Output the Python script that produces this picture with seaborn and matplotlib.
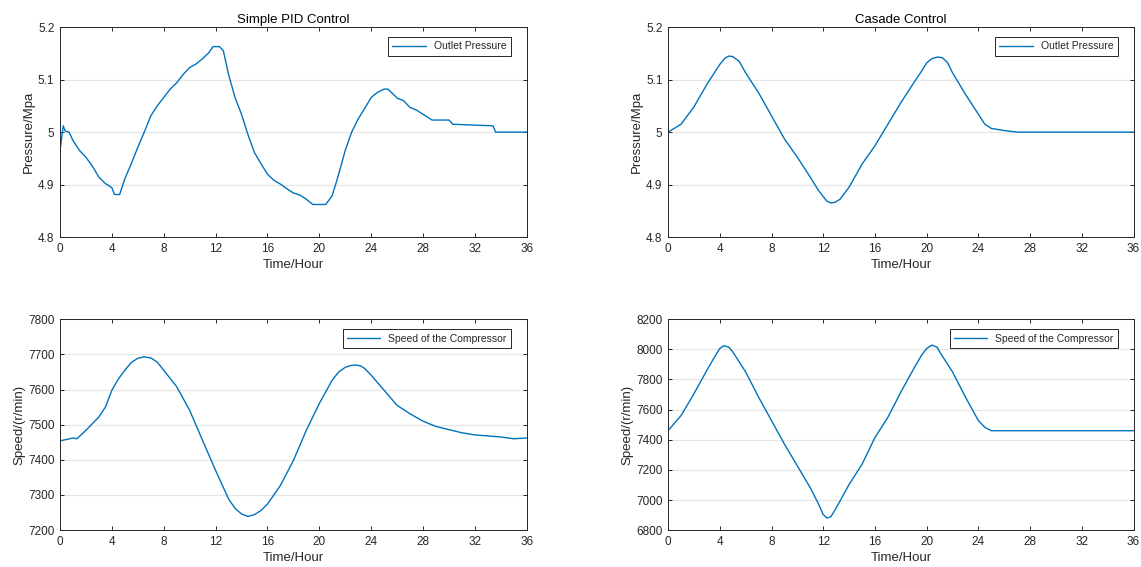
import matplotlib
matplotlib.use("Agg")
import matplotlib.pyplot as plt
import seaborn as sns
import pandas as pd
from matplotlib.ticker import FuncFormatter

# Simple PID control - outlet pressure
pid_p_time = [0, 0.25, 0.4, 0.7, 1.0, 1.5, 2.0, 2.5, 3.0, 3.5, 4.0, 4.2, 4.6, 5.0, 5.5,
              6.0, 6.5, 7.0, 7.5, 8.0, 8.5, 9.0, 9.5, 10.0, 10.5, 11.0, 11.5, 11.8, 12.3,
              12.6, 13.0, 13.5, 14.0, 14.5, 15.0, 15.5, 16.0, 16.5, 17.0, 17.5, 18.0,
              18.5, 19.0, 19.5, 20.5, 21.0, 21.5, 22.0, 22.5, 23.0, 23.5, 24.0, 24.5,
              25.0, 25.3, 26.0, 26.5, 27.0, 27.5, 28.0, 28.7, 30.0, 30.3, 33.4, 33.6, 36.0]
pid_p_val = [4.965, 5.012, 5.002, 5.0, 4.984, 4.965, 4.952, 4.935, 4.914, 4.902, 4.894, 4.881,
             4.881, 4.911, 4.94, 4.971, 5.0, 5.031, 5.05, 5.066, 5.082, 5.094, 5.11, 5.123,
             5.13, 5.14, 5.152, 5.163, 5.163, 5.155, 5.11, 5.066, 5.034, 4.995, 4.961, 4.94,
             4.92, 4.908, 4.901, 4.892, 4.884, 4.88, 4.872, 4.862, 4.862, 4.879, 4.92,
             4.965, 5.0, 5.025, 5.045, 5.066, 5.076, 5.082, 5.082, 5.065, 5.06, 5.047,
             5.042, 5.034, 5.023, 5.023, 5.015, 5.012, 5.0, 5.0]

# Simple PID control - compressor speed
pid_s_time = [0, 1.0, 1.3, 2.0, 3.0, 3.5, 4.0, 4.5, 5.0, 5.5, 6.0, 6.5, 7.0, 7.5, 8.0, 9.0,
              10.0, 11.0, 12.0, 13.0, 13.5, 14.0, 14.5, 15.0, 15.5, 16.0, 17.0, 18.0, 19.0,
              20.0, 21.0, 21.5, 22.0, 22.4, 22.8, 23.2, 23.5, 24.0, 25.0, 26.0, 27.0, 28.0,
              29.0, 30.0, 31.0, 32.0, 33.0, 34.0, 35.0, 36.0]
pid_s_val = [7454, 7462, 7460, 7484, 7522, 7550, 7598, 7630, 7655, 7677, 7689, 7693, 7690,
             7678, 7655, 7608, 7541, 7455, 7370, 7289, 7262, 7246, 7239, 7244, 7256, 7274,
             7327, 7398, 7484, 7560, 7627, 7650, 7663, 7668, 7670, 7667, 7660, 7641, 7598,
             7555, 7531, 7510, 7495, 7486, 7477, 7471, 7468, 7465, 7460, 7462]

# Cascade control - outlet pressure
cas_p_time = [0, 1, 2, 3, 3.5, 4, 4.4, 4.7, 5.0, 5.5, 6, 7, 8, 9, 10, 11, 11.6, 12, 12.3,
              12.6, 12.9, 13.3, 14, 15, 16, 17, 18, 19, 19.6, 20, 20.4, 20.8, 21.2, 21.6,
              22, 23, 24, 24.5, 25, 26, 27, 36]
cas_p_val = [5.0, 5.015, 5.048, 5.091, 5.11, 5.129, 5.141, 5.145, 5.144, 5.135, 5.113,
             5.075, 5.031, 4.987, 4.952, 4.914, 4.89, 4.877, 4.868, 4.865, 4.866, 4.872,
             4.895, 4.939, 4.974, 5.015, 5.056, 5.094, 5.116, 5.132, 5.14, 5.143, 5.142,
             5.133, 5.113, 5.072, 5.034, 5.015, 5.007, 5.003, 5.0, 5.0]

# Cascade control - compressor speed
cas_s_time = [0, 1, 2, 3, 3.5, 4, 4.3, 4.7, 5, 6, 7, 8, 9, 10, 11, 11.6, 12, 12.3, 12.6,
              13, 14, 15, 16, 17, 18, 19, 19.6, 20, 20.4, 20.8, 21, 22, 23, 24, 24.5, 25, 36]
cas_s_val = [7460, 7560, 7705, 7861, 7935, 8006, 8024, 8015, 7984, 7850, 7683, 7527, 7371,
             7226, 7081, 6980, 6903, 6880, 6890, 6947, 7103, 7237, 7415, 7549, 7716, 7872,
             7960, 8006, 8028, 8015, 7984, 7850, 7683, 7527, 7482, 7460, 7460]

time_ticks = list(range(0, 37, 4))
pressure_ticks = [4.8, 4.9, 5.0, 5.1, 5.2]
pid_speed_ticks = [7200, 7300, 7400, 7500, 7600, 7700, 7800]
cas_speed_ticks = [6800, 7000, 7200, 7400, 7600, 7800, 8000, 8200]

sns.set_theme(style="ticks")
plt.rcParams["font.family"] = ["Liberation Sans", "DejaVu Sans"]

line_color = "#0072BD"
edge = "#262626"

fig = plt.figure(figsize=(11.41, 5.67), dpi=100)
ax_tl = fig.add_axes([0.0526, 0.582, 0.409, 0.370])
ax_tr = fig.add_axes([0.5855, 0.582, 0.408, 0.370])
ax_bl = fig.add_axes([0.0526, 0.065, 0.409, 0.372])
ax_br = fig.add_axes([0.5855, 0.065, 0.408, 0.372])

panels = [
    (ax_tl, pid_p_time, pid_p_val, "Outlet Pressure", "Pressure/Mpa", pressure_ticks, "Simple PID Control"),
    (ax_tr, cas_p_time, cas_p_val, "Outlet Pressure", "Pressure/Mpa", pressure_ticks, "Casade Control"),
    (ax_bl, pid_s_time, pid_s_val, "Speed of the Compressor", "Speed/(r/min)", pid_speed_ticks, None),
    (ax_br, cas_s_time, cas_s_val, "Speed of the Compressor", "Speed/(r/min)", cas_speed_ticks, None),
]

for ax, t, v, label, ylab, yticks, title in panels:
    df = pd.DataFrame({"time": t, "value": v})
    sns.lineplot(data=df, x="time", y="value", ax=ax, color=line_color,
                 linewidth=1.0, label=label, sort=False)
    ax.set_xlim(0, 36)
    ax.set_ylim(yticks[0], yticks[-1])
    ax.set_xticks(time_ticks)
    ax.set_yticks(yticks)
    ax.yaxis.set_major_formatter(FuncFormatter(lambda x, p: f"{x:g}"))
    ax.grid(axis="y", color="#e6e6e6", linewidth=0.9)
    ax.set_axisbelow(True)
    ax.tick_params(direction="in", top=True, right=True, length=3, pad=4,
                   labelsize=8.5, color=edge, labelcolor=edge, width=0.7)
    for s in ax.spines.values():
        s.set_visible(True)
        s.set_color(edge)
        s.set_linewidth(0.7)
    ax.set_xlabel("Time/Hour", fontsize=9.5, color=edge, labelpad=3)
    ax.set_ylabel(ylab, fontsize=9.5, color=edge, labelpad=2)
    if title:
        ax.set_title(title, fontsize=9.5, color="black", pad=3)
    leg = ax.legend(loc="upper right", bbox_to_anchor=(0.966, 0.952), borderaxespad=0,
                    fontsize=7.5, fancybox=False, framealpha=1,
                    handlelength=3.2, borderpad=0.4)
    leg.get_frame().set_edgecolor(edge)
    leg.get_frame().set_linewidth(0.7)

fig.savefig("out.png", dpi=100)
